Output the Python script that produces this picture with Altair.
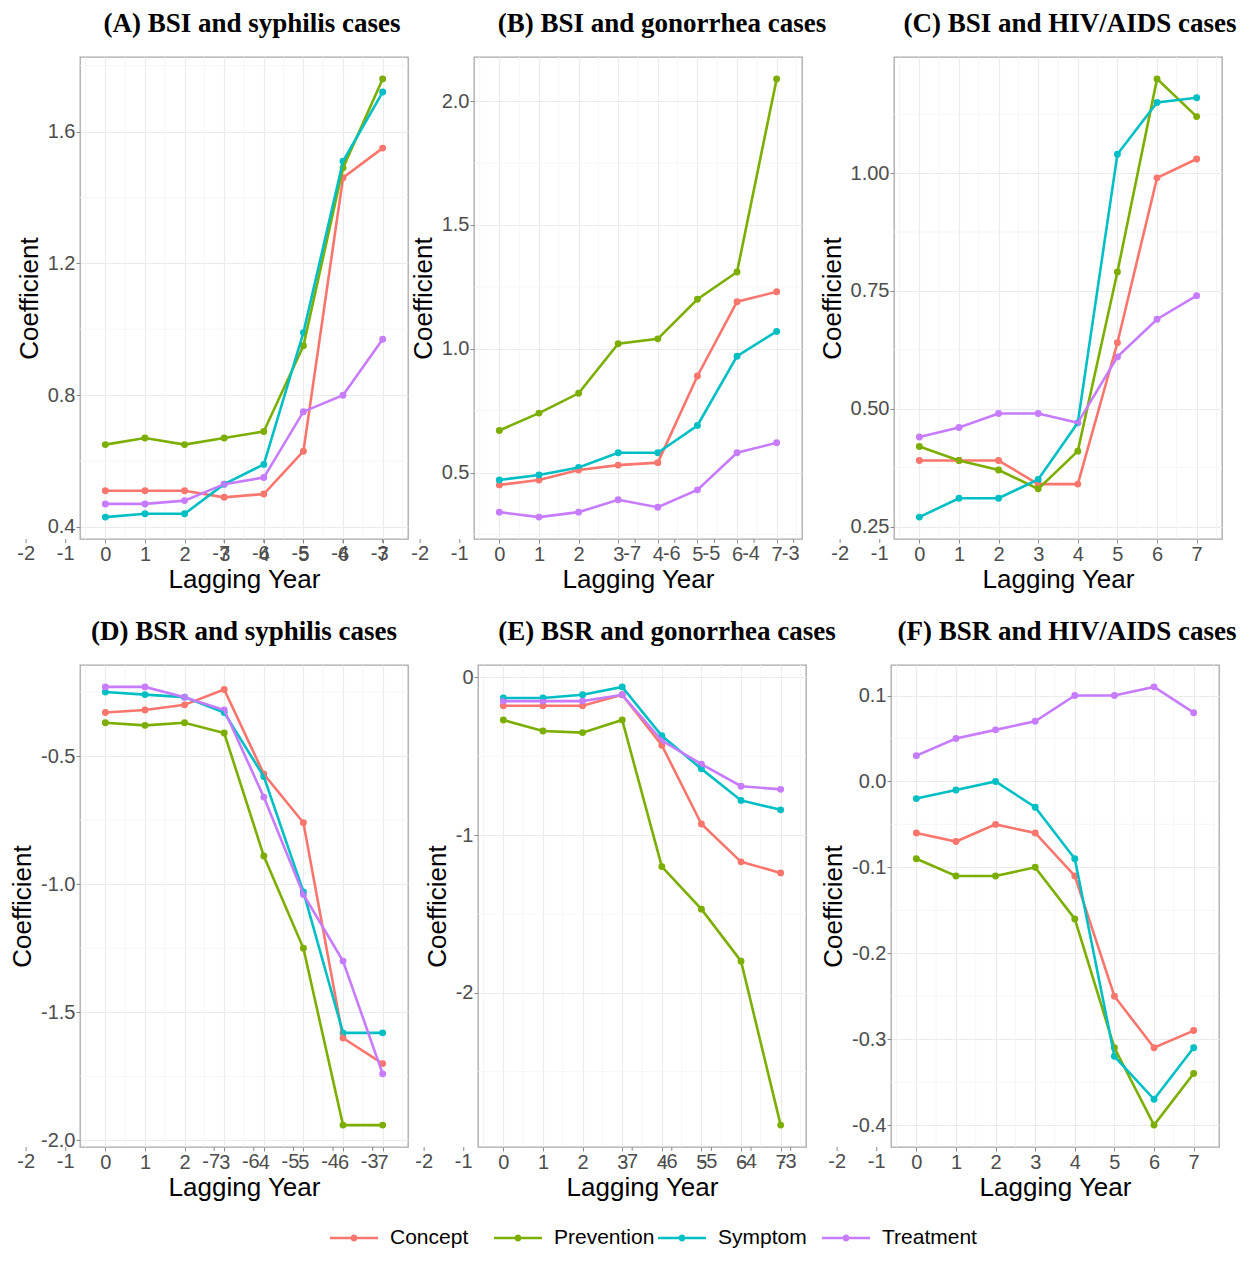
import altair as alt
import pandas as pd

lags = [0, 1, 2, 3, 4, 5, 6, 7]
groups = ["Concept", "Prevention", "Symptom", "Treatment"]
palette = ["#F8766D", "#7CAE00", "#00BFC4", "#C77CFF"]

titles = [
    "(A) BSI and syphilis cases",
    "(B) BSI and gonorrhea cases",
    "(C) BSI and HIV/AIDS cases",
    "(D) BSR and syphilis cases",
    "(E) BSR and gonorrhea cases",
    "(F) BSR and HIV/AIDS cases",
]

# (A) BSI and syphilis
A_concept = [0.51, 0.51, 0.51, 0.49, 0.50, 0.63, 1.46, 1.55]
A_prevention = [0.65, 0.67, 0.65, 0.67, 0.69, 0.95, 1.49, 1.76]
A_symptom = [0.43, 0.44, 0.44, 0.53, 0.59, 0.99, 1.51, 1.72]
A_treatment = [0.47, 0.47, 0.48, 0.53, 0.55, 0.75, 0.80, 0.97]

# (B) BSI and gonorrhea
B_concept = [0.45, 0.47, 0.51, 0.53, 0.54, 0.89, 1.19, 1.23]
B_prevention = [0.67, 0.74, 0.82, 1.02, 1.04, 1.20, 1.31, 2.09]
B_symptom = [0.47, 0.49, 0.52, 0.58, 0.58, 0.69, 0.97, 1.07]
B_treatment = [0.34, 0.32, 0.34, 0.39, 0.36, 0.43, 0.58, 0.62]

# (C) BSI and HIV/AIDS
C_concept = [0.39, 0.39, 0.39, 0.34, 0.34, 0.64, 0.99, 1.03]
C_prevention = [0.42, 0.39, 0.37, 0.33, 0.41, 0.79, 1.20, 1.12]
C_symptom = [0.27, 0.31, 0.31, 0.35, 0.47, 1.04, 1.15, 1.16]
C_treatment = [0.44, 0.46, 0.49, 0.49, 0.47, 0.61, 0.69, 0.74]

# (D) BSR and syphilis
D_concept = [-0.33, -0.32, -0.30, -0.24, -0.57, -0.76, -1.60, -1.70]
D_prevention = [-0.37, -0.38, -0.37, -0.41, -0.89, -1.25, -1.94, -1.94]
D_symptom = [-0.25, -0.26, -0.27, -0.33, -0.58, -1.03, -1.58, -1.58]
D_treatment = [-0.23, -0.23, -0.27, -0.32, -0.66, -1.04, -1.30, -1.74]

# (E) BSR and gonorrhea
E_concept = [-0.18, -0.18, -0.18, -0.11, -0.43, -0.93, -1.17, -1.24]
E_prevention = [-0.27, -0.34, -0.35, -0.27, -1.20, -1.47, -1.80, -2.84]
E_symptom = [-0.13, -0.13, -0.11, -0.06, -0.37, -0.58, -0.78, -0.84]
E_treatment = [-0.15, -0.15, -0.15, -0.11, -0.40, -0.55, -0.69, -0.71]

# (F) BSR and HIV/AIDS
F_concept = [-0.06, -0.07, -0.05, -0.06, -0.11, -0.25, -0.31, -0.29]
F_prevention = [-0.09, -0.11, -0.11, -0.10, -0.16, -0.31, -0.40, -0.34]
F_symptom = [-0.02, -0.01, 0.00, -0.03, -0.09, -0.32, -0.37, -0.31]
F_treatment = [0.03, 0.05, 0.06, 0.07, 0.10, 0.10, 0.11, 0.08]

series = [
    [A_concept, A_prevention, A_symptom, A_treatment],
    [B_concept, B_prevention, B_symptom, B_treatment],
    [C_concept, C_prevention, C_symptom, C_treatment],
    [D_concept, D_prevention, D_symptom, D_treatment],
    [E_concept, E_prevention, E_symptom, E_treatment],
    [F_concept, F_prevention, F_symptom, F_treatment],
]

y_ticks = [
    [0.4, 0.8, 1.2, 1.6],
    [0.5, 1.0, 1.5, 2.0],
    [0.25, 0.50, 0.75, 1.00],
    [-2.0, -1.5, -1.0, -0.5],
    [-2, -1, 0],
    [-0.4, -0.3, -0.2, -0.1, 0.0, 0.1],
]
y_formats = [".1f", ".1f", ".2f", ".1f", "d", ".1f"]

# stray tick labels seen under each panel
left_tick_values = [-2, -1]
left_tick_labels = ["-2", "-1"]
ghost_tick_values = [3, 4, 5, 6, 7]
ghost_tick_labels = ["-7", "-6", "-5", "-4", "-3"]
ghost_offsets = [-3, 14, None, -13, 7, None]
title_dx = [8, 24, 12, 0, 25, 12]

x_major = [0, 1, 2, 3, 4, 5, 6, 7]
x_minor = [-0.5, 0.5, 1.5, 2.5, 3.5, 4.5, 5.5, 6.5, 7.5]

W, H = 328, 482
TICK = 4
LPAD = 1
LABEL_FONT = "Liberation Sans"
LABEL_COLOR = "#4D4D4D"
MINOR_COLOR = "#F4F4F4"

# legend key: a line segment with a dot in the middle (path in symbol units)
legend_path = ("M-2.4,-0.13 L-0.34,-0.13 L-0.34,0.13 L-2.4,0.13 Z "
               "M0.34,-0.13 L2.4,-0.13 L2.4,0.13 L0.34,0.13 Z "
               "M0.35,0 A0.35,0.35 0 1,1 -0.35,0 A0.35,0.35 0 1,1 0.35,0 Z")

color_scale = alt.Scale(domain=groups, range=palette)


def panel(i):
    vals, grp, lg = [], [], []
    for g, s in zip(groups, series[i]):
        vals += s
        grp += [g] * len(s)
        lg += lags
    df = pd.DataFrame({"lag": lg, "coef": vals, "group": grp})
    lo, hi = min(vals), max(vals)
    r = hi - lo
    ydom = [lo - 0.05 * r, hi + 0.05 * r]
    xs = alt.Scale(domain=[-0.64, 7.64], nice=False, zero=False)
    ys = alt.Scale(domain=ydom, nice=False, zero=False)
    majors = y_ticks[i]
    step = majors[1] - majors[0]
    yminor = [m - step / 2 for m in majors] + [majors[-1] + step / 2]
    yminor = [v for v in yminor if ydom[0] <= v <= ydom[1]]
    fmt = y_formats[i]
    label_expr = "replace(format(datum.value, '%s'), '\u2212', '-')" % fmt

    xaxis = alt.Axis(values=x_major, title="Lagging Year", grid=True,
                     labelFlush=False, labelOverlap=False, orient="bottom")
    yaxis = alt.Axis(values=majors, title="Coefficient", grid=True, orient="left",
                     labelExpr=label_expr, labelFlush=False, labelOverlap=False)

    X = lambda f: alt.X(f, scale=xs, axis=xaxis)
    Y = lambda f: alt.Y(f, scale=ys, axis=yaxis)
    C = alt.Color("group:N", scale=color_scale, legend=None)

    base = alt.Chart(df)
    minor_x = alt.Chart(pd.DataFrame({"v": x_minor})).mark_rule(
        color=MINOR_COLOR, strokeWidth=0.8).encode(x=X("v:Q"))
    minor_y = alt.Chart(pd.DataFrame({"c": yminor})).mark_rule(
        color=MINOR_COLOR, strokeWidth=0.8).encode(y=Y("c:Q"))
    pts = base.mark_point(filled=True, size=48, opacity=1).encode(
        x=X("lag:Q"), y=Y("coef:Q"), color=C)
    line = base.mark_line(strokeWidth=2.6).encode(
        x=X("lag:Q"), y=Y("coef:Q"), color=C)
    layers = [minor_x, minor_y, pts, line]

    left_df = pd.DataFrame({"lag": left_tick_values, "lab": left_tick_labels})
    layers.append(alt.Chart(left_df).mark_text(
        baseline="top", align="center", font=LABEL_FONT, fontSize=20,
        color=LABEL_COLOR).encode(
        x=X("lag:Q"), y=alt.value(H + TICK + LPAD), text="lab:N"))
    layers.append(alt.Chart(left_df).mark_rule(color="#8A8A8A", strokeWidth=1).encode(
        x=X("lag:Q"), y=alt.value(H), y2=alt.value(H + TICK)))

    off = ghost_offsets[i]
    if off is not None:
        gdf = pd.DataFrame({"lag": ghost_tick_values, "lab": ghost_tick_labels})
        layers.append(alt.Chart(gdf).mark_text(
            baseline="top", align="center", font=LABEL_FONT, fontSize=20,
            color=LABEL_COLOR, dx=off).encode(
            x=X("lag:Q"), y=alt.value(H + TICK + LPAD), text="lab:N"))
        layers.append(alt.Chart(gdf).mark_rule(
            color="#8A8A8A", strokeWidth=1, xOffset=off + 3).encode(
            x=X("lag:Q"), y=alt.value(H), y2=alt.value(H + TICK)))

    return alt.layer(*layers).properties(
        width=W, height=H,
        title=alt.TitleParams(titles[i], dx=title_dx[i]),
    )


# legend drawn as a small chart of its own below the panels
legend_df = pd.DataFrame({"group": groups})
legend_x = alt.X("group:N", axis=None, sort=groups,
                 scale=alt.Scale(type="point", domain=groups, range=[250, 742], padding=0))
legend_keys = alt.Chart(legend_df).mark_point(
    shape=legend_path, filled=True, size=400, opacity=1, xOffset=24).encode(
    x=legend_x, y=alt.value(14),
    color=alt.Color("group:N", scale=color_scale, legend=None))
legend_labels = alt.Chart(legend_df).mark_text(
    align="left", baseline="middle", dx=60, font=LABEL_FONT, fontSize=21,
    color="black").encode(x=legend_x, y=alt.value(14), text="group:N")
legend_chart = alt.layer(legend_keys, legend_labels).properties(
    width=920, height=28, view=alt.ViewBackground(strokeOpacity=0))

row1 = alt.hconcat(alt.hconcat(panel(0), panel(1), spacing=-1), panel(2), spacing=-9)
row2 = alt.hconcat(alt.hconcat(panel(3), panel(4), spacing=4), panel(5), spacing=-18)

chart = alt.vconcat(row1, row2, legend_chart, spacing=23).resolve_scale(
    color="shared"
).configure_view(
    stroke="#A8A8A8", strokeWidth=1.3
).configure_axis(
    domain=False,
    labelFont=LABEL_FONT, labelFontSize=20, labelColor=LABEL_COLOR,
    labelPadding=LPAD, tickSize=TICK, tickColor="#8A8A8A", tickWidth=1,
    titleFont=LABEL_FONT, titleFontSize=26, titleFontWeight="normal",
    titleColor="black",
    gridColor="#EBEBEB", gridWidth=1.1,
).configure_axisX(
    titlePadding=2,
).configure_axisY(
    titlePadding=5,
).configure_title(
    font="Liberation Serif", fontSize=27, fontWeight="bold", color="black",
    anchor="middle", offset=19,
).properties(
    padding={"left": 0, "top": 0, "right": 0, "bottom": 0},
)

chart.save("out.html", embed_options={"renderer": "svg", "actions": False})
